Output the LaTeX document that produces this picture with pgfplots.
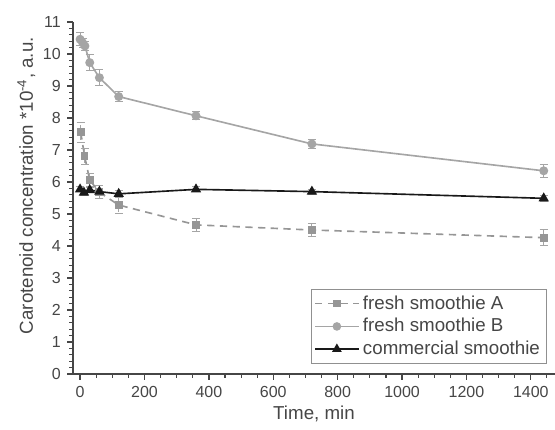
\documentclass[border=0pt]{standalone}
\usepackage{fontspec}
\setmainfont{Liberation Sans}
\usepackage{pgfplots}
\pgfplotsset{compat=1.18}

\definecolor{lineA}{RGB}{150,150,150}
\definecolor{lineB}{RGB}{165,165,165}
\definecolor{lineC}{RGB}{25,25,25}
\definecolor{axisgray}{RGB}{70,70,70}

\begin{document}
\begin{tikzpicture}
\begin{axis}[
  at={(0,0)}, anchor=south west,
  width=265.1pt, height=193.6pt, scale only axis,
  xmin=-22, xmax=1475, ymin=0, ymax=11,
  axis x line*=bottom, axis y line*=left,
  axis line style={axisgray, line width=0.8pt},
  xtick={0,200,...,1400}, ytick={0,1,...,11},
  minor xtick={50,100,150,250,300,350,450,500,550,650,700,750,850,900,950,1050,1100,1150,1250,1300,1350,1450},
  minor ytick={0.2,0.4,...,10.9},
  tick align=outside,
  major tick length=3.2pt, minor tick length=2pt,
  every tick/.style={axisgray, line width=0.7pt},
  every minor tick/.style={axisgray, line width=0.6pt},
  every tick label/.append style={font=\fontsize{8.8}{10}\selectfont, text=axisgray},
  /pgf/number format/assume math mode=true,
  /pgf/number format/1000 sep={},
  xlabel={Time, min},
  ylabel={Carotenoid concentration *10\textsuperscript{-4}, a.u.},
  label style={font=\fontsize{10.3}{12}\selectfont, text=axisgray},
  xlabel style={yshift=2pt},
  ylabel style={at={(axis description cs:-0.097,0.535)}, anchor=center},
  legend style={at={(0.983,0.028)}, anchor=south east, draw=axisgray!60, line width=0.6pt,
    font=\fontsize{10.3}{12}\selectfont, text=axisgray, inner sep=1.5pt, row sep=-0.5pt,
    cells={anchor=west}},
  legend image code/.code={\draw[mark repeat=2, mark phase=2, #1, line width=0.7pt] plot coordinates {(0pt,0pt) (12pt,0pt) (24pt,0pt)};},
  error bars/y dir=both, error bars/y explicit,
  error bars/error bar style={color=lineB, line width=0.5pt},
  error bars/error mark options={rotate=90, mark size=2.2pt, color=lineB, line width=0.5pt},
]
\addplot[lineA, dashed, dash pattern=on 4pt off 3pt, line width=0.9pt,
  mark=square*, mark size=1.7pt, mark options={solid, fill=lineA, draw=lineA}]
  table[x=t, y=v, y error=e] {
  t v e
  2 7.55 0.30
  14 6.81 0.25
  30 6.06 0.20
  60 5.68 0.20
  120 5.28 0.25
  360 4.66 0.20
  720 4.50 0.20
  1440 4.26 0.25
};
\addlegendentry{fresh smoothie A}
\addplot[lineB, line width=0.9pt, mark=*, mark size=2pt, mark options={fill=lineB, draw=lineB}]
  table[x=t, y=v, y error=e] {
  t v e
  0 10.46 0.20
  8 10.35 0.15
  15 10.25 0.15
  30 9.73 0.25
  60 9.26 0.25
  120 8.67 0.15
  360 8.07 0.12
  720 7.19 0.15
  1440 6.35 0.20
};
\addlegendentry{fresh smoothie B}
\addplot[lineC, line width=0.9pt, mark=triangle*, mark size=2.4pt, mark options={fill=lineC, draw=lineC}]
  table[x=t, y=v, y error=e] {
  t v e
  0 5.77 0.08
  12 5.67 0.08
  30 5.75 0.08
  60 5.70 0.20
  120 5.63 0.10
  360 5.77 0.08
  720 5.70 0.08
  1440 5.49 0.10
};
\addlegendentry{commercial smoothie}
\end{axis}
\pgfresetboundingbox
\useasboundingbox (-40.15pt,-30.25pt) rectangle (265.1pt,205.7pt);
\end{tikzpicture}
\end{document}
